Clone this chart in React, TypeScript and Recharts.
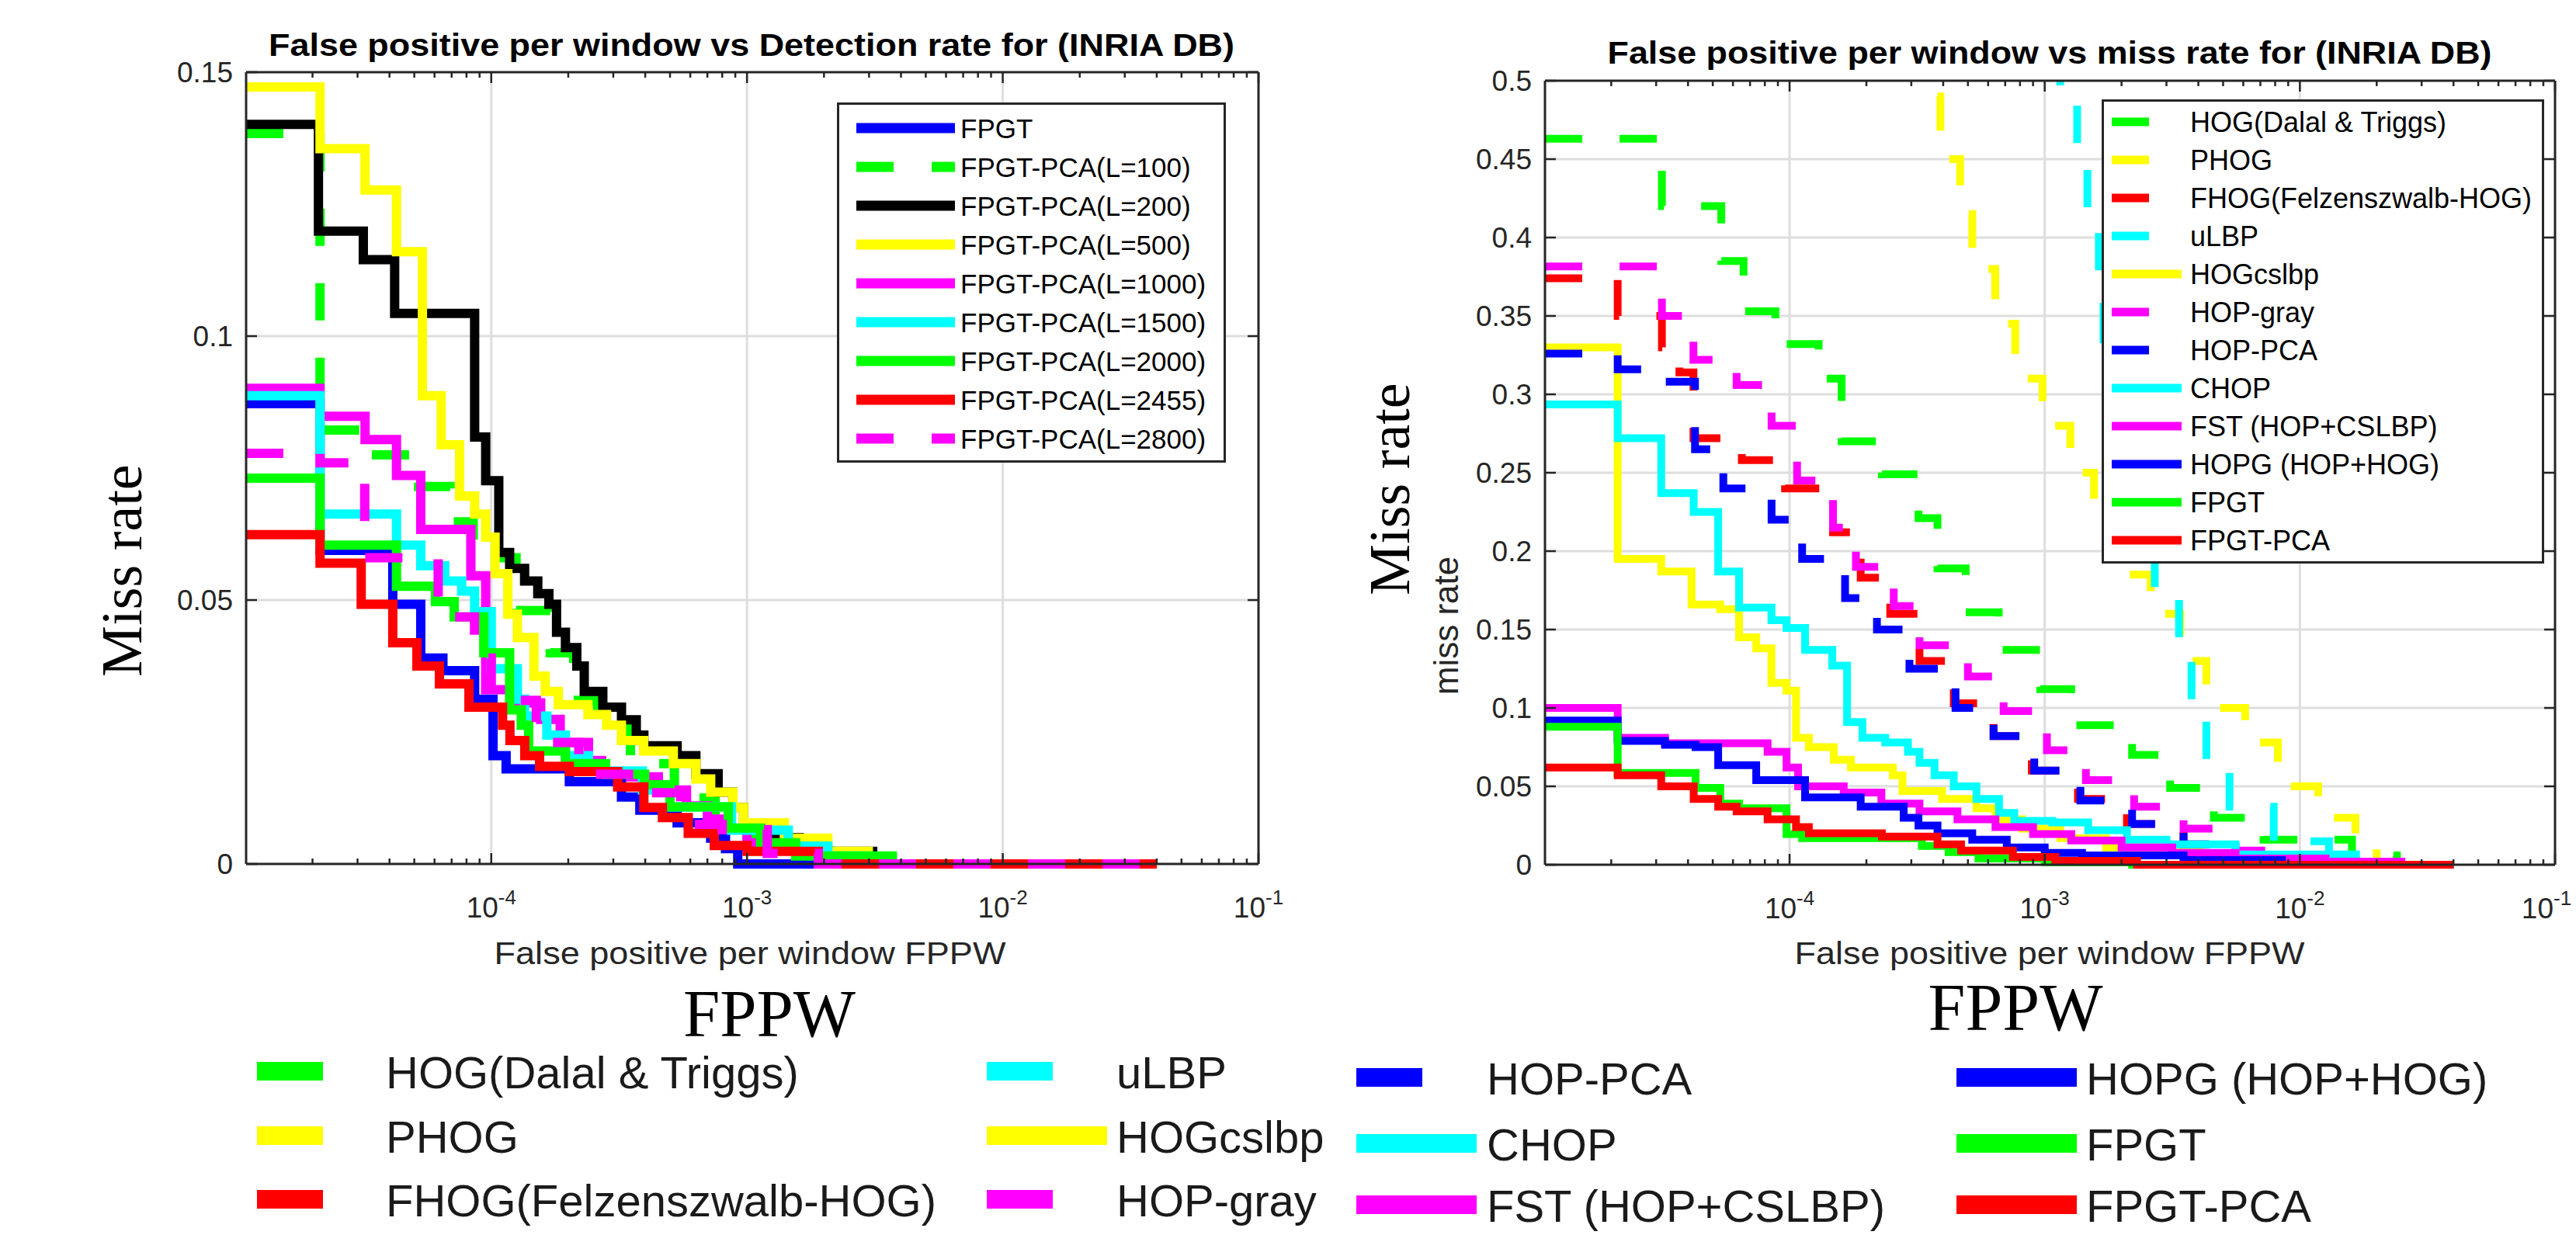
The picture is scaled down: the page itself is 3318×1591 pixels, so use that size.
import React from "react";
import { LineChart, Line, XAxis, YAxis, CartesianGrid } from "recharts";

type Pt = [number, number];

// x = false positives per window (FPPW), y = miss rate
const XMIN = 1.1e-5;
const XMAX = 0.1;

// ---------- left panel: FPGT / FPGT-PCA for several L ----------
const fpgtL: Pt[] = [
  [1.1e-5, 0.0872], [2.14e-5, 0.0594], [4.12e-5, 0.0492], [5.3e-5, 0.039], [6.47e-5, 0.0366],
  [8.61e-5, 0.0312], [1.016e-4, 0.0205], [1.143e-4, 0.018], [2.02e-4, 0.0156], [3.23e-4, 0.0127],
  [3.81e-4, 0.0102], [5.33e-4, 0.0078], [7.21e-4, 0.0049], [8.24e-4, 0.0029], [9.2e-4, 0], [0.04, 0],
];
const pca100: Pt[] = [
  [1.1e-5, 0.1384], [2.14e-5, 0.0822], [3.3e-5, 0.0775], [5.2e-5, 0.0715], [6.9e-5, 0.0648],
  [8.5e-5, 0.058], [1.25e-4, 0.048], [1.7e-4, 0.04], [2.1e-4, 0.031], [2.6e-4, 0.026], [3.5e-4, 0.019],
  [5.2e-4, 0.0125], [7.5e-4, 0.0088], [1.0e-3, 0.0055], [1.4e-3, 0.0025], [2.1e-3, 0], [0.04, 0],
];
const pca200: Pt[] = [
  [1.1e-5, 0.1401], [2.11e-5, 0.1199], [3.16e-5, 0.1145], [4.19e-5, 0.1043], [8.61e-5, 0.0809],
  [9.51e-5, 0.0726], [1.07e-4, 0.059], [1.18e-4, 0.056], [1.35e-4, 0.0536], [1.52e-4, 0.0512],
  [1.68e-4, 0.0492], [1.8e-4, 0.0439], [1.95e-4, 0.041], [2.16e-4, 0.0375], [2.31e-4, 0.0327],
  [2.73e-4, 0.0297], [3.23e-4, 0.0273], [3.69e-4, 0.0244], [3.95e-4, 0.0224], [5.33e-4, 0.0205],
  [6.31e-4, 0.0171], [7.71e-4, 0.0136], [8.8e-4, 0.0107], [9.7e-4, 0.0078], [1.15e-3, 0.005],
  [1.6e-3, 0.0024], [3.1e-3, 0], [0.04, 0],
];
const pca500: Pt[] = [
  [1.1e-5, 0.1472], [2.14e-5, 0.1355], [3.21e-5, 0.1277], [4.26e-5, 0.116], [5.38e-5, 0.0887],
  [6.37e-5, 0.0794], [7.52e-5, 0.0697], [8.61e-5, 0.0663], [9.51e-5, 0.0619], [1.035e-4, 0.055],
  [1.161e-4, 0.0473], [1.265e-4, 0.0429], [1.469e-4, 0.0356], [1.626e-4, 0.0327], [1.828e-4, 0.0302],
  [2.388e-4, 0.0283], [2.825e-4, 0.0263], [3.228e-4, 0.0234], [3.945e-4, 0.0214], [5.15e-4, 0.019],
  [6.31e-4, 0.0161], [7.21e-4, 0.0136], [8.81e-4, 0.0107], [9.7e-4, 0.0078], [1.4e-3, 0.0049],
  [2.07e-3, 0.0024], [2.98e-3, 0], [0.04, 0],
];
const pca1000: Pt[] = [
  [1.1e-5, 0.0901], [2.14e-5, 0.0848], [3.21e-5, 0.0804], [4.26e-5, 0.0736], [5.3e-5, 0.0634],
  [8.32e-5, 0.0546], [9.51e-5, 0.033], [1.2e-4, 0.0305], [1.56e-4, 0.0274], [1.86e-4, 0.023],
  [2.4e-4, 0.0196], [2.7e-4, 0.0175], [3.5e-4, 0.0165], [4.5e-4, 0.014], [5.8e-4, 0.011],
  [7e-4, 0.0085], [8.5e-4, 0.0065], [1.0e-3, 0.004], [1.3e-3, 0.0025], [2.0e-3, 0.001], [2.4e-3, 0], [0.04, 0],
];
const pca1500: Pt[] = [
  [1.1e-5, 0.0887], [2.14e-5, 0.0663], [4.26e-5, 0.0604], [5.3e-5, 0.0565], [6.58e-5, 0.0536],
  [7.66e-5, 0.0517], [8.61e-5, 0.0478], [1.0e-4, 0.037], [1.265e-4, 0.0312], [1.35e-4, 0.028],
  [1.65e-4, 0.0244], [1.95e-4, 0.0205], [2.4e-4, 0.0176], [3.9e-4, 0.014], [5.0e-4, 0.0108],
  [8.7e-4, 0.0064], [1.45e-3, 0.0034], [2.07e-3, 0.0015], [3.0e-3, 0], [0.04, 0],
];
const pca2000: Pt[] = [
  [1.1e-5, 0.0731], [2.14e-5, 0.0604], [4.26e-5, 0.0526], [6.05e-5, 0.0497], [7.16e-5, 0.0468],
  [9.35e-5, 0.04], [1.18e-4, 0.0292], [1.31e-4, 0.0263], [1.4e-4, 0.0214], [1.95e-4, 0.019],
  [2.8e-4, 0.017], [3.98e-4, 0.015], [5.0e-4, 0.0108], [8.45e-4, 0.0068], [1.13e-3, 0.004],
  [1.55e-3, 0.0015], [3.7e-3, 0], [0.04, 0],
];
const pca2455: Pt[] = [
  [1.1e-5, 0.0624], [2.14e-5, 0.057], [3.1e-5, 0.0492], [4.12e-5, 0.0419], [5.12e-5, 0.0375],
  [6.27e-5, 0.0341], [8.18e-5, 0.0297], [1.107e-4, 0.0263], [1.183e-4, 0.0234], [1.352e-4, 0.0205],
  [1.545e-4, 0.0185], [2.02e-4, 0.0175], [3.12e-4, 0.0146], [3.95e-4, 0.0107], [4.67e-4, 0.0088],
  [5.89e-4, 0.0058], [7.45e-4, 0.0035], [1.0e-3, 0.0024], [1.9e-3, 0], [0.04, 0],
];
const pca2800: Pt[] = [
  [1.1e-5, 0.0778], [2.14e-5, 0.076], [3.2e-5, 0.058], [6.2e-5, 0.0468], [8.6e-5, 0.039],
  [1.0e-4, 0.031], [1.5e-4, 0.023], [2.2e-4, 0.017], [3.8e-4, 0.0135], [5.5e-4, 0.0075],
  [8.0e-4, 0.0065], [1.2e-3, 0.002], [1.9e-3, 0], [0.04, 0],
];

// ---------- right panel: comparison with other descriptors ----------
const hogDT: Pt[] = [
  [1.1e-5, 0.463], [3.16e-5, 0.42], [5.4e-5, 0.385], [6.6e-5, 0.353], [8.8e-5, 0.332], [1.3e-4, 0.31],
  [1.6e-4, 0.27], [2.3e-4, 0.249], [3.2e-4, 0.221], [3.8e-4, 0.189], [4.9e-4, 0.161], [6.6e-4, 0.137],
  [9.6e-4, 0.112], [1.27e-3, 0.089], [2.2e-3, 0.07], [3.1e-3, 0.049], [4.6e-3, 0.03], [7.2e-3, 0.016],
  [1.6e-2, 0.006], [2.4e-2, 0], [0.04, 0],
];
const phog: Pt[] = [
  [1.1e-5, 0.62], [3.3e-4, 0.49], [3.9e-4, 0.45], [4.66e-4, 0.415], [5.2e-4, 0.38], [6.4e-4, 0.345],
  [7.66e-4, 0.31], [9.8e-4, 0.28], [1.26e-3, 0.25], [1.56e-3, 0.22], [2.05e-3, 0.185], [2.6e-3, 0.16],
  [3.4e-3, 0.13], [4.3e-3, 0.1], [6.1e-3, 0.078], [8.2e-3, 0.05], [1.18e-2, 0.03], [1.65e-2, 0.01],
  [2.0e-2, 0], [0.04, 0],
];
const fhog: Pt[] = [
  [1.1e-5, 0.374], [2.12e-5, 0.35], [3.16e-5, 0.33], [3.7e-5, 0.314], [4.2e-5, 0.272], [6.5e-5, 0.258],
  [9.6e-5, 0.24], [1.48e-4, 0.212], [1.9e-4, 0.183], [2.48e-4, 0.16], [3.23e-4, 0.13], [4.4e-4, 0.103],
  [6.3e-4, 0.082], [8.9e-4, 0.06], [1.35e-3, 0.042], [2.1e-3, 0.026], [3.5e-3, 0.013], [5e-3, 0], [0.04, 0],
];
const ulbp: Pt[] = [
  [1.1e-5, 0.62], [1.15e-3, 0.49], [1.34e-3, 0.45], [1.47e-3, 0.41], [1.63e-3, 0.375], [1.7e-3, 0.335],
  [2.0e-3, 0.29], [2.35e-3, 0.23], [2.7e-3, 0.174], [3.36e-3, 0.135], [3.76e-3, 0.1], [4.3e-3, 0.066],
  [5.3e-3, 0.037], [7.9e-3, 0.015], [1.3e-2, 0.005], [1.7e-2, 0], [0.04, 0],
];
const hogcslbp: Pt[] = [
  [1.1e-5, 0.33], [2.12e-5, 0.195], [3.14e-5, 0.187], [4.13e-5, 0.166], [5.35e-5, 0.163], [6.34e-5, 0.145],
  [7.4e-5, 0.138], [8.49e-5, 0.116], [9.73e-5, 0.111], [1.06e-4, 0.081], [1.19e-4, 0.075], [1.49e-4, 0.067],
  [1.74e-4, 0.062], [2.54e-4, 0.057], [2.77e-4, 0.047], [3.96e-4, 0.042], [5.4e-4, 0.036], [6.41e-4, 0.029],
  [8.15e-4, 0.023], [1.15e-3, 0.017], [1.74e-3, 0.011], [2.8e-3, 0.008], [4.1e-3, 0.005], [8e-3, 0.002],
  [1.1e-2, 0], [0.04, 0],
];
const hopGray: Pt[] = [
  [1.1e-5, 0.3815], [3.16e-5, 0.35], [4.2e-5, 0.322], [6.2e-5, 0.306], [8.5e-5, 0.28], [1.07e-4, 0.245],
  [1.48e-4, 0.215], [1.82e-4, 0.19], [2.56e-4, 0.165], [3.23e-4, 0.14], [5.0e-4, 0.12], [6.9e-4, 0.098],
  [1.02e-3, 0.073], [1.45e-3, 0.054], [2.24e-3, 0.037], [3.5e-3, 0.023], [5.6e-3, 0.009], [8e-3, 0], [0.04, 0],
];
const hopPca: Pt[] = [
  [1.1e-5, 0.326], [2.12e-5, 0.316], [3.16e-5, 0.308], [4.26e-5, 0.265], [5.5e-5, 0.24], [8.5e-5, 0.22],
  [1.12e-4, 0.195], [1.65e-4, 0.17], [2.2e-4, 0.15], [2.95e-4, 0.125], [4.47e-4, 0.1], [6.3e-4, 0.082],
  [9.1e-4, 0.06], [1.38e-3, 0.041], [2.2e-3, 0.026], [3.5e-3, 0.013], [5e-3, 0], [0.04, 0],
];
const chop: Pt[] = [
  [1.1e-5, 0.2936], [2.12e-5, 0.272], [3.14e-5, 0.237], [4.21e-5, 0.225], [5.25e-5, 0.187], [6.34e-5, 0.164],
  [8.49e-5, 0.156], [9.73e-5, 0.151], [1.15e-4, 0.137], [1.47e-4, 0.127], [1.68e-4, 0.091], [1.93e-4, 0.081],
  [2.37e-4, 0.078], [2.91e-4, 0.072], [3.23e-4, 0.065], [3.7e-4, 0.057], [4.4e-4, 0.05], [5.4e-4, 0.042],
  [6.62e-4, 0.033], [7.6e-4, 0.028], [1.07e-3, 0.027], [1.48e-3, 0.022], [2.1e-3, 0.016], [3.0e-3, 0.013],
  [5.6e-3, 0.0065], [1.66e-2, 0], [0.04, 0],
];
const fst: Pt[] = [
  [1.1e-5, 0.1], [2.12e-5, 0.081], [3.25e-5, 0.0775], [8.2e-5, 0.072], [9.73e-5, 0.062], [1.08e-4, 0.05],
  [1.63e-4, 0.046], [2.29e-4, 0.039], [3.23e-4, 0.034], [4.55e-4, 0.029], [6.41e-4, 0.024], [9.0e-4, 0.0195],
  [1.27e-3, 0.0155], [2e-3, 0.011], [3.16e-3, 0.0075], [5.6e-3, 0.004], [1.26e-2, 0.002], [2.5e-2, 0], [0.04, 0],
];
const hopg: Pt[] = [
  [1.1e-5, 0.092], [2.12e-5, 0.079], [3.25e-5, 0.0765], [4.28e-5, 0.075], [5.25e-5, 0.0635], [7.4e-5, 0.054],
  [1.15e-4, 0.043], [1.9e-4, 0.037], [2.8e-4, 0.03], [3.2e-4, 0.025], [3.8e-4, 0.02], [5.2e-4, 0.016],
  [7.1e-4, 0.011], [1.0e-3, 0.0075], [1.4e-3, 0.006], [3.5e-3, 0.003], [8.5e-3, 0], [0.04, 0],
];
const fpgtR: Pt[] = [
  [1.1e-5, 0.088], [2.12e-5, 0.0586], [4.28e-5, 0.049], [5.35e-5, 0.039], [6.34e-5, 0.036], [9.73e-5, 0.0195],
  [1.12e-4, 0.017], [3.3e-4, 0.012], [4.2e-4, 0.008], [5.5e-4, 0.004], [1.0e-3, 0.0016], [2.2e-3, 0], [0.04, 0],
];
const fpgtPcaR: Pt[] = [
  [1.1e-5, 0.062], [2.12e-5, 0.057], [3.14e-5, 0.05], [4.21e-5, 0.042], [5.25e-5, 0.037], [6.2e-5, 0.034],
  [8.2e-5, 0.029], [1.06e-4, 0.024], [1.19e-4, 0.02], [2.3e-4, 0.018], [3.8e-4, 0.013], [4.7e-4, 0.009],
  [7.5e-4, 0.005], [1.1e-3, 0.0025], [2.3e-3, 0], [0.04, 0],
];

type Series = { name: string; color: string; dashed: boolean; pts: Pt[]; clip?: boolean };

const leftSeries: Series[] = [
  { name: "FPGT", color: "#0000ff", dashed: false, pts: fpgtL },
  { name: "FPGT-PCA(L=100)", color: "#00ff00", dashed: true, pts: pca100 },
  { name: "FPGT-PCA(L=200)", color: "#000000", dashed: false, pts: pca200 },
  { name: "FPGT-PCA(L=500)", color: "#ffff00", dashed: false, pts: pca500 },
  { name: "FPGT-PCA(L=1000)", color: "#ff00ff", dashed: false, pts: pca1000 },
  { name: "FPGT-PCA(L=1500)", color: "#00ffff", dashed: false, pts: pca1500 },
  { name: "FPGT-PCA(L=2000)", color: "#00ff00", dashed: false, pts: pca2000 },
  { name: "FPGT-PCA(L=2455)", color: "#ff0000", dashed: false, pts: pca2455 },
  { name: "FPGT-PCA(L=2800)", color: "#ff00ff", dashed: true, pts: pca2800 },
];

const rightSeries: Series[] = [
  { name: "HOG(Dalal & Triggs)", color: "#00ff00", dashed: true, pts: hogDT },
  { name: "PHOG", color: "#ffff00", dashed: true, pts: phog, clip: true },
  { name: "FHOG(Felzenszwalb-HOG)", color: "#ff0000", dashed: true, pts: fhog },
  { name: "uLBP", color: "#00ffff", dashed: true, pts: ulbp, clip: true },
  { name: "HOGcslbp", color: "#ffff00", dashed: false, pts: hogcslbp },
  { name: "HOP-gray", color: "#ff00ff", dashed: true, pts: hopGray },
  { name: "HOP-PCA", color: "#0000ff", dashed: true, pts: hopPca },
  { name: "CHOP", color: "#00ffff", dashed: false, pts: chop },
  { name: "FST (HOP+CSLBP)", color: "#ff00ff", dashed: false, pts: fst },
  { name: "HOPG (HOP+HOG)", color: "#0000ff", dashed: false, pts: hopg },
  { name: "FPGT", color: "#00ff00", dashed: false, pts: fpgtR },
  { name: "FPGT-PCA", color: "#ff0000", dashed: false, pts: fpgtPcaR },
];

const leftYTicks = [0, 0.05, 0.1, 0.15];
const rightYTicks = [0, 0.05, 0.1, 0.15, 0.2, 0.25, 0.3, 0.35, 0.4, 0.45, 0.5];
const leftYGrid = [0.05, 0.1];
const rightYGrid = [0.05, 0.1, 0.15, 0.2, 0.25, 0.3, 0.35, 0.4, 0.45];
const xGrid = [1e-4, 1e-3, 1e-2];
const decadeTicks = [1e-4, 1e-3, 1e-2, 1e-1];

const minorTicks: number[] = [];
for (let e = -5; e <= -2; e++) for (let m = 2; m <= 9; m++) minorTicks.push(m * Math.pow(10, e));
const xTicks = [...decadeTicks, ...minorTicks].filter((v) => v >= XMIN && v <= XMAX).sort((a, b) => a - b);

const AX = "#262626";
const SANS = "'Liberation Sans', Arial, Helvetica, sans-serif";
const SERIF = "'Liberation Serif', 'Times New Roman', serif";

const isDecade = (v: number) => Math.abs(Math.log10(v) - Math.round(Math.log10(v))) < 1e-6;

const xTick = (pos: "bottom" | "top", maxLabelX = 99999) => (props: any) => {
  const { x, y, payload } = props;
  const v = payload.value;
  const major = isDecade(v);
  const dir = pos === "bottom" ? -1 : 1;
  return (
    <g>
      <line x1={x} x2={x} y1={y} y2={y + dir * (major ? 14 : 7)} stroke={AX} strokeWidth={2.5} />
      {pos === "bottom" && major && (
        <text x={Math.min(x, maxLabelX)} y={y + 69} textAnchor="middle" fontSize={37} fill={AX} fontFamily={SANS}>
          <tspan>10</tspan>
          <tspan dy={-17} fontSize={26}>{String(Math.round(Math.log10(v)))}</tspan>
        </text>
      )}
    </g>
  );
};

const yTick = (pos: "left" | "right") => (props: any) => {
  const { x, y, payload } = props;
  const dir = pos === "left" ? 1 : -1;
  return (
    <g>
      <line x1={x} x2={x + dir * 14} y1={y} y2={y} stroke={AX} strokeWidth={2.5} />
      {pos === "left" && (
        <text x={x - 17} y={y + 13} textAnchor="end" fontSize={37} fill={AX} fontFamily={SANS}>
          {String(payload.value)}
        </text>
      )}
    </g>
  );
};

const toRows = (pts: Pt[]) => pts.map(([x, y]) => ({ x, y }));

// The box is four axes with identical domains. Recharts only draws ticks for an axis that has a series,
// so the series are spread over them (same domain, same pixels). The left y axis carries the
// allowDataOverflow clip that the two curves starting above 0.5 need.
function Panel({ series, yMax, yTicks, yGrid, width, height, margin, lineW, clipAxis, maxLabelX }: any) {
  const axisLine = { stroke: AX, strokeWidth: 3 };
  return (
    <LineChart width={width} height={height} margin={margin}>
      <CartesianGrid stroke="#dedede" strokeWidth={3} verticalValues={xGrid} horizontalValues={yGrid} />
      <XAxis dataKey="x" type="number" scale="log" domain={[XMIN, XMAX]} ticks={xTicks} interval={0}
        height={1} tickSize={0} tickMargin={0} tickLine={false} axisLine={axisLine} tick={xTick("bottom", maxLabelX)} />
      <XAxis xAxisId="top" dataKey="x" orientation="top" type="number" scale="log" domain={[XMIN, XMAX]} ticks={xTicks}
        interval={0} height={1} tickSize={0} tickMargin={0} tickLine={false} axisLine={axisLine} tick={xTick("top")} />
      <YAxis type="number" domain={[0, yMax]} ticks={yTicks} interval={0} width={1} tickSize={0} tickMargin={0}
        tickLine={false} axisLine={axisLine} tick={yTick("left")} allowDataOverflow={clipAxis} />
      <YAxis yAxisId="right" orientation="right" type="number" domain={[0, yMax]} ticks={yTicks} interval={0}
        width={1} tickSize={0} tickMargin={0} tickLine={false} axisLine={axisLine} tick={yTick("right")} />
      {series.map((s: Series, i: number) => {
        const yId = clipAxis ? (s.clip ? 0 : "right") : i === 1 ? "right" : 0;
        const xId = i === 0 ? "top" : 0;
        return (
          <Line key={s.name} data={toRows(s.pts)} dataKey="y" type="stepAfter" stroke={s.color}
            strokeWidth={lineW} strokeDasharray={s.dashed ? "48 48" : undefined} dot={false} activeDot={false}
            isAnimationActive={false} xAxisId={xId} yAxisId={yId} />
        );
      })}
    </LineChart>
  );
}

function LegendBox({ series, left, top, width, height, rowTop, rowGap, sampleX, shortW, longW, textX, fontSize, thick, alwaysLong }: any) {
  return (
    <svg style={{ position: "absolute", left, top }} width={width} height={height}>
      <rect x={1.5} y={1.5} width={width - 3} height={height - 3} fill="#fff" stroke={AX} strokeWidth={3} />
      {series.map((s: Series, i: number) => {
        const cy = rowTop + rowGap * i;
        const w = alwaysLong || !s.dashed ? longW : shortW;
        return (
          <g key={s.name}>
            <line x1={sampleX} x2={sampleX + w} y1={cy} y2={cy} stroke={s.color} strokeWidth={thick}
              strokeDasharray={alwaysLong && s.dashed ? "48 49" : undefined} />
            <text x={textX} y={cy + fontSize * 0.36} fontSize={fontSize} fontFamily={SANS} fill="#000">{s.name}</text>
          </g>
        );
      })}
    </svg>
  );
}

const bottomColMarkX = [331, 1271, 1747, 2520];
const bottomColTextX = [497, 1438, 1915, 2687];
const bottomRowBase = [[1402, 1485, 1567], [1402, 1485, 1567], [1410, 1495, 1574], [1410, 1495, 1574]];

export default function App() {
  return (
    <div style={{ position: "absolute", left: 0, top: 0, width: 3318, height: 1591, background: "#fff", overflow: "hidden" }}>
      <div style={{ position: "absolute", left: 0, top: 0 }}>
        <Panel series={leftSeries} yMax={0.15} yTicks={leftYTicks} yGrid={leftYGrid} width={1700} height={1250}
          margin={{ top: 92, right: 78, bottom: 136, left: 316 }} lineW={12} clipAxis={false} />
      </div>
      <div style={{ position: "absolute", left: 1650, top: 0 }}>
        <Panel series={rightSeries} yMax={0.5} yTicks={rightYTicks} yGrid={rightYGrid} width={1668} height={1250}
          margin={{ top: 103, right: 26, bottom: 135, left: 339 }} lineW={10} clipAxis={true} maxLabelX={1630} />
      </div>

      <svg style={{ position: "absolute", left: 0, top: 0 }} width={3318} height={1591}>
        <text x={968} y={72} textAnchor="middle" fontSize={40} fontWeight="bold" fontFamily={SANS}
          textLength={1244} lengthAdjust="spacingAndGlyphs">False positive per window vs Detection rate for (INRIA DB)</text>
        <text x={2640} y={82} textAnchor="middle" fontSize={40} fontWeight="bold" fontFamily={SANS}
          textLength={1139} lengthAdjust="spacingAndGlyphs">False positive per window vs miss rate for (INRIA DB)</text>
        <text x={966} y={1242} textAnchor="middle" fontSize={40} fill={AX} fontFamily={SANS}
          textLength={659} lengthAdjust="spacingAndGlyphs">False positive per window FPPW</text>
        <text x={2640} y={1242} textAnchor="middle" fontSize={40} fill={AX} fontFamily={SANS}
          textLength={657} lengthAdjust="spacingAndGlyphs">False positive per window FPPW</text>
        <text x={991} y={1335} textAnchor="middle" fontSize={86} fontFamily={SERIF}
          textLength={222} lengthAdjust="spacingAndGlyphs">FPPW</text>
        <text x={2596} y={1327} textAnchor="middle" fontSize={86} fontFamily={SERIF}
          textLength={225} lengthAdjust="spacingAndGlyphs">FPPW</text>
        <text transform="translate(182,735) rotate(-90)" textAnchor="middle" fontSize={74} fontFamily={SERIF}>Miss rate</text>
        <text transform="translate(1815,630) rotate(-90)" textAnchor="middle" fontSize={74} fontFamily={SERIF}>Miss rate</text>
        <text transform="translate(1878,806) rotate(-90)" textAnchor="middle" fontSize={44} fill={AX} fontFamily={SANS}>miss rate</text>

        {rightSeries.map((s, i) => {
          const col = Math.floor(i / 3);
          const row = i % 3;
          const base = bottomRowBase[col][row];
          const w = s.dashed ? 85 : 155;
          return (
            <g key={s.name}>
              <rect x={bottomColMarkX[col]} y={base - 34} width={w} height={24} fill={s.color} />
              <text x={bottomColTextX[col]} y={base} fontSize={58} fill="#1a1a1a" fontFamily={SANS}>{s.name}</text>
            </g>
          );
        })}
      </svg>

      <LegendBox series={leftSeries} left={1078} top={132} width={501} height={464} rowTop={33} rowGap={50}
        sampleX={25} shortW={127} longW={127} textX={159} fontSize={35} thick={13} alwaysLong={true} />
      <LegendBox series={rightSeries} left={2707} top={128} width={570} height={598} rowTop={29} rowGap={49}
        sampleX={13} shortW={48} longW={90} textX={114} fontSize={36} thick={11} alwaysLong={false} />
    </div>
  );
}
